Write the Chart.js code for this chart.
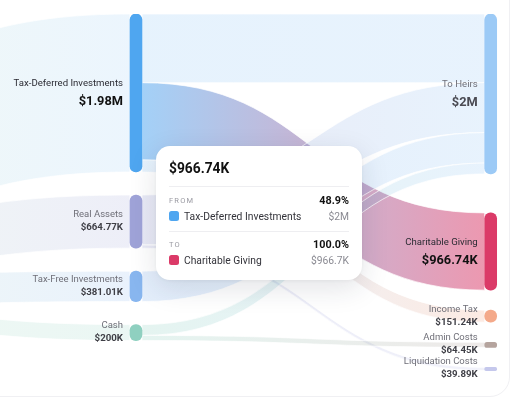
<!DOCTYPE html>
<html>
<head>
<meta charset="utf-8">
<script src="https://cdn.jsdelivr.net/npm/chart.js@4.4.1/dist/chart.umd.min.js"></script>
<style>
  html, body { margin: 0; padding: 0; background: #fff; overflow: hidden; }
  #wrap { position: relative; width: 512px; height: 398px; overflow: hidden; font-family: Roboto, sans-serif; }
  #card { position: absolute; left: -40px; top: -40px; width: 550px; height: 437px; box-sizing: border-box;
          border: 1px solid #f0f0f3; border-radius: 20px; }
  #chart { position: absolute; left: 0; top: 0; }
  .tip { position: absolute; left: 156px; top: 146px; width: 206px; height: 134px; box-sizing: border-box;
         background: #fff; border-radius: 14px;
         box-shadow: 0 8px 28px rgba(30, 35, 60, 0.13), 0 1px 4px rgba(0, 0, 0, 0.05); }
  .tip .title { position: absolute; left: 13px; top: 12px; height: 20px; line-height: 20px;
                font-size: 13.8px; font-weight: 700; color: #111; }
  .tip .rule { position: absolute; left: 13px; right: 13px; height: 1px; background: #eeeef1; }
  .tip .row { position: absolute; left: 13px; right: 13px; display: flex; align-items: center; justify-content: space-between; }
  .tip .head { height: 14px; }
  .tip .head span:first-child { font-size: 7.5px; letter-spacing: 1.2px; color: #9a9aa2; }
  .tip .head span:last-child { font-size: 10.8px; font-weight: 700; color: #111; }
  .tip .item { height: 16px; font-size: 10.3px; }
  .tip .item .name { display: flex; align-items: center; color: #33333a; }
  .tip .item .sw { width: 10px; height: 10px; border-radius: 2.5px; margin-right: 5px; }
  .tip .item .val { color: #8a8a92; }
</style>
</head>
<body>
<div id="wrap">
  <div id="card"></div>
  <canvas id="chart" width="512" height="398"></canvas>
  <div class="tip" id="tip"></div>
</div>
<script>
// Sankey data, values in thousands of dollars
const nodeNames = ["Estate", "Tax-Deferred Investments", "Real Assets", "Tax-Free Investments", "Cash",
                   "To Heirs", "Charitable Giving", "Income Tax", "Admin Costs", "Liquidation Costs"];
const nodeColumns = [0, 1, 1, 1, 1, 2, 2, 2, 2, 2];
const linkSources = [1, 1, 1, 2, 2, 3, 4, 4, 0, 0, 0, 0];
const linkTargets = [5, 6, 7, 5, 9, 5, 5, 8, 1, 2, 3, 4];
const linkValues = [859.52, 966.74, 151.24, 624.88, 39.89, 381.01, 135.55, 64.45, 1977.5, 664.77, 381.01, 200];

// Styles and layout
const nodeColors = ["#7cc7a4", "#4fa6f0", "#5f66be", "#3985e4", "#44b196",
                    "#5aa7f0", "#db3a68", "#ed703c", "#84675d", "#9ea3df"];
const activeLink = 1;
const nodeHalf = 6;
const yMax = 4480;
const plotHeightPx = 358;
const columnTopPx = [50, 0, 0];
const columnGapsPx = [[], [23, 23, 23], [39, 20, 20, 20]];

function rgba(hex, a) {
    const n = parseInt(hex.slice(1), 16);
    return `rgba(${n >> 16}, ${(n >> 8) & 255}, ${n & 255}, ${a})`;
}

function trimZeros(s) {
    return s.replace(/\.?0+$/, "");
}

function fmtLabel(v) {
    return v >= 1000 ? "$" + trimZeros((v / 1000).toFixed(2)) + "M" : "$" + trimZeros(v.toFixed(2)) + "K";
}

function fmtShort(v) {
    return v >= 1000 ? "$" + trimZeros((v / 1000).toFixed(1)) + "M" : "$" + trimZeros(v.toFixed(1)) + "K";
}

// Node values and vertical layout (in value units)
const nodeIn = nodeNames.map(() => 0);
const nodeOut = nodeNames.map(() => 0);
linkValues.forEach((v, i) => {
    nodeOut[linkSources[i]] += v;
    nodeIn[linkTargets[i]] += v;
});
const nodeValue = nodeNames.map((n, i) => Math.max(nodeIn[i], nodeOut[i]));

const unitsPerPx = yMax / plotHeightPx;
const nodeTop = [], nodeBottom = [];
[0, 1, 2].forEach(c => {
    let pos = columnTopPx[c] * unitsPerPx;
    let k = 0;
    nodeNames.forEach((n, i) => {
        if (nodeColumns[i] !== c) return;
        nodeTop[i] = pos;
        nodeBottom[i] = pos + nodeValue[i];
        pos = nodeBottom[i] + (columnGapsPx[c][k] || 0) * unitsPerPx;
        k++;
    });
});

// Where each link leaves its source and enters its target
const linkOut = [], linkIn = [];
const outPos = nodeTop.slice(), inPos = nodeTop.slice();
linkValues.forEach((v, i) => {
    linkOut[i] = outPos[linkSources[i]];
    outPos[linkSources[i]] += v;
    linkIn[i] = inPos[linkTargets[i]];
    inPos[linkTargets[i]] += v;
});

const activeNodes = [linkSources[activeLink], linkTargets[activeLink]];

const flowPlugin = {
    id: "flows",
    beforeDatasetsDraw(chart) {
        const { ctx, scales: { x, y } } = chart;
        ctx.save();
        linkValues.forEach((v, i) => {
            const s = linkSources[i], t = linkTargets[i];
            const x0 = x.getPixelForValue(nodeColumns[s]) + nodeHalf;
            const x1 = x.getPixelForValue(nodeColumns[t]) - nodeHalf;
            const sy0 = y.getPixelForValue(linkOut[i]), sy1 = y.getPixelForValue(linkOut[i] + v);
            const ty0 = y.getPixelForValue(linkIn[i]), ty1 = y.getPixelForValue(linkIn[i] + v);
            const xm = (x0 + x1) / 2;
            ctx.beginPath();
            ctx.moveTo(x0, sy0);
            ctx.bezierCurveTo(xm, sy0, xm, ty0, x1, ty0);
            ctx.lineTo(x1, ty1);
            ctx.bezierCurveTo(xm, ty1, xm, sy1, x0, sy1);
            ctx.closePath();
            const a = i === activeLink ? 0.52 : (s === 0 ? 0.11 : 0.14);
            const g = ctx.createLinearGradient(x0, 0, x1, 0);
            g.addColorStop(0, rgba(nodeColors[s], a));
            g.addColorStop(1, rgba(nodeColors[t], a));
            ctx.fillStyle = g;
            ctx.fill();
            ctx.strokeStyle = "rgba(255, 255, 255, 0.7)";
            ctx.lineWidth = 1;
            ctx.stroke();
        });
        ctx.restore();
    }
};

const labelPlugin = {
    id: "nodeLabels",
    afterDatasetsDraw(chart) {
        const { ctx, scales: { x, y } } = chart;
        ctx.save();
        ctx.textAlign = "right";
        ctx.textBaseline = "middle";
        nodeNames.forEach((name, i) => {
            const top = y.getPixelForValue(nodeTop[i]), bot = y.getPixelForValue(nodeBottom[i]);
            const c = (top + bot) / 2;
            const lx = x.getPixelForValue(nodeColumns[i]) - nodeHalf - 7;
            const big = bot - top > 60;
            const on = activeNodes.includes(i);
            ctx.font = (big ? "9.6px" : "9.5px") + " Roboto";
            ctx.fillStyle = on ? "#2b2b33" : "#6f6f78";
            ctx.fillText(name, lx, c - (big ? 9 : 7));
            ctx.font = "bold " + (big ? "12.8px" : "9.7px") + " Roboto";
            ctx.fillStyle = on ? "#111111" : (big ? "#4a4a52" : "#3f3f46");
            ctx.fillText(fmtLabel(nodeValue[i]), lx, c + (big ? 9 : 6));
        });
        ctx.restore();
    }
};

new Chart(document.getElementById("chart"), {
    type: "bar",
    data: {
        datasets: [{
            data: nodeNames.map((n, i) => ({ x: nodeColumns[i], y: [nodeTop[i], nodeBottom[i]] })),
            backgroundColor: nodeNames.map((n, i) => rgba(nodeColors[i], activeNodes.includes(i) ? 1 : 0.6)),
            barThickness: nodeHalf * 2,
            borderRadius: nodeHalf,
            borderSkipped: false
        }]
    },
    options: {
        responsive: false,
        animation: false,
        events: [],
        layout: { padding: { top: 14, bottom: 26, left: 0, right: 0 } },
        plugins: { legend: { display: false }, tooltip: { enabled: false } },
        scales: {
            x: { type: "linear", min: 0.6166, max: 2.0601, offset: false, display: false },
            y: { type: "linear", min: 0, max: yMax, reverse: true, display: false }
        }
    },
    plugins: [flowPlugin, labelPlugin]
});

// Tooltip for the highlighted link
const s = linkSources[activeLink], t = linkTargets[activeLink], lv = linkValues[activeLink];
document.getElementById("tip").innerHTML = `
    <div class="title">${fmtLabel(lv)}</div>
    <div class="rule" style="top:40px"></div>
    <div class="row head" style="top:47px"><span>FROM</span><span>${(lv / nodeValue[s] * 100).toFixed(1)}%</span></div>
    <div class="row item" style="top:62px">
        <span class="name"><span class="sw" style="background:${nodeColors[s]}"></span>${nodeNames[s]}</span>
        <span class="val">${fmtShort(nodeValue[s])}</span></div>
    <div class="rule" style="top:85px"></div>
    <div class="row head" style="top:91px"><span>TO</span><span>${(lv / nodeValue[t] * 100).toFixed(1)}%</span></div>
    <div class="row item" style="top:106px">
        <span class="name"><span class="sw" style="background:${nodeColors[t]}"></span>${nodeNames[t]}</span>
        <span class="val">${fmtShort(nodeValue[t])}</span></div>
`;
</script>
</body>
</html>
